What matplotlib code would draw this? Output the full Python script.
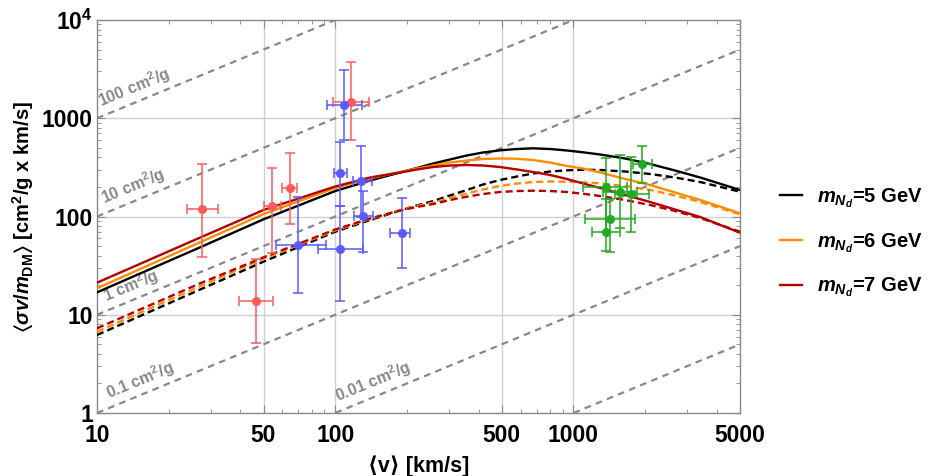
import numpy as np
import matplotlib
matplotlib.use("Agg")
import matplotlib.pyplot as plt
from matplotlib.ticker import FixedLocator, NullFormatter

plt.rcParams['font.family'] = ['Liberation Sans', 'DejaVu Sans']
plt.rcParams['font.weight'] = 'bold'
plt.rcParams['mathtext.fontset'] = 'custom'
plt.rcParams['mathtext.rm'] = 'Liberation Sans:bold'
plt.rcParams['mathtext.it'] = 'Liberation Sans:bold:italic'
plt.rcParams['mathtext.bf'] = 'Liberation Sans:bold'
plt.rcParams['mathtext.fallback'] = 'stix'

# ---------------- data ----------------
v_curve = [10, 27, 50, 100, 140, 187, 220, 258, 303, 357, 417, 492, 580, 677,
           798, 939, 1097, 1294, 1647, 2097, 2670, 3404, 5000]
solid_5 = [16.9, 48.4, 93.6, 181.7, 232.5, 280.4, 311.5, 346.2, 380.4, 417.8, 448.1, 471.8,
           486.4, 494.4, 486.4, 469.7, 450.2, 427.6, 389.4, 342.2, 293.8, 249.4, 186.1]
solid_6 = [18.6, 54.5, 106, 195.1, 243.7, 283.8, 307.9, 330.4, 354.4, 371.5, 384.7, 389.4,
           386.7, 375.8, 354.4, 326.6, 307.9, 280.4, 240.8, 209.2, 175.5, 147.2, 107.8]
solid_7 = [21.2, 60.8, 116.5, 202, 249.4, 280.4, 300.8, 319, 330.4, 334.3, 330.4, 319,
           300.8, 283.8, 264.5, 240.8, 216.7, 195.1, 165.5, 140.5, 117.8, 98.8, 68.4]
dashed_5 = [6.22, 17.98, 34.7, 70.0, 92.1, 115.1, 129.4, 143.8, 163.6, 186.1, 211.7, 235.2,
            255.4, 274.0, 287.1, 295.3, 298.8, 297.4, 287.1, 270.8, 249.4, 224.4, 178.8]
dashed_6 = [6.72, 19.4, 37.4, 72.0, 94.3, 116.5, 127.9, 138.8, 154.3, 171.4, 188.3, 204.4,
            216.7, 224.4, 227.1, 226.0, 222.9, 217.7, 204.4, 186.1, 163.6, 140.5, 105.3]
dashed_7 = [7.28, 20.8, 38.4, 73.7, 95.4, 115.1, 125, 134.1, 147.2, 159.1, 169.4, 177.6,
            181.7, 183.0, 181.7, 177.6, 170.2, 161.7, 147.2, 130.9, 113.8, 96.5, 70.0]

# reference lines of constant sigma/m [cm^2/g]
sigma_m_lines = [0.001, 0.01, 0.1, 1, 10, 100, 1000]
line_label_vals = [100, 10, 1, 0.1, 0.01]
line_label_text = ['100 cm$^2$/g', '10 cm$^2$/g', '1 cm$^2$/g', '0.1 cm$^2$/g', '0.01 cm$^2$/g']
line_label_v = [10.6, 10.9, 11.1, 11.4, 105]

# dwarfs (red)
red_v = [27.7, 54.4, 64.4, 46.4, 116.5]
red_v_lo = [23.8, 50.2, 59.5, 39.5, 97.6]
red_v_hi = [32.3, 59.0, 68.8, 54.7, 138]
red_y = [118, 129, 196, 13.9, 1475]
red_y_lo = [39, 42.8, 84, 5.2, 600]
red_y_hi = [342, 314, 446, 36.7, 3715]

# LSBs (blue)
blue_v = [109, 104.7, 128, 131, 69.8, 104.7, 190]
blue_v_lo = [92.7, 98.9, 119, 120, 56.4, 85, 170]
blue_v_hi = [129, 112, 142, 144.6, 91.2, 131, 206]
blue_y = [1365, 277, 230, 100.5, 51, 46.4, 68.4]
blue_y_lo = [600, 128, 100, 43.8, 16.5, 13.9, 29.7]
blue_y_hi = [3100, 577, 526, 180, 159, 128, 153]

# clusters (green)
green_v = [1946, 1366, 1574, 1750, 1425, 1366]
green_v_lo = [1786, 1100, 1335, 1495, 1118, 1194]
green_v_hi = [2134, 1683, 1854, 2083, 1814, 1570]
green_y = [340, 201, 176, 169, 94.3, 70]
green_y_lo = [221, 70, 75.9, 70, 43.2, 44.9]
green_y_hi = [522, 391, 425, 400, 150, 150]

x_ticks = [10, 50, 100, 500, 1000, 5000]
x_tick_labels = ['10', '50', '100', '500', '1000', '5000']
y_ticks = [1, 10, 100, 1000, 10000]
y_tick_labels = ['1', '10', '100', '1000', '$10^4$']

# ---------------- figure ----------------
fig = plt.figure(figsize=(9.3, 4.76), dpi=100)
ax = fig.add_axes([97/930, 1-413/476, (740-97)/930, (413-20)/476])
ax.set_xscale('log')
ax.set_yscale('log')
ax.set_xlim(10, 5000)
ax.set_ylim(1, 10000)

# grid
for gx in [50, 100, 500, 1000]:
    ax.axvline(gx, color='#d0d0d0', lw=1.0, zorder=0)
for gy in [10, 100, 1000]:
    ax.axhline(gy, color='#d0d0d0', lw=1.0, zorder=0)

# constant sigma/m lines
vv = np.array([10.0, 5000.0])
for k in sigma_m_lines:
    ax.plot(vv, k * vv, color='#888888', lw=1.6, dashes=(3, 2.4), zorder=1)

for k, t, v0 in zip(line_label_vals, line_label_text, line_label_v):
    ax.annotate(t, xy=(v0, k * v0), xytext=(0, 2.5), textcoords='offset points',
                rotation=22.4, rotation_mode='anchor', ha='left', va='bottom',
                color='#888888', fontsize=11.5, fontweight='bold', zorder=2)

# theory curves
cols = ['black', '#ff8c00', '#b30000']
for ys, c in zip([dashed_5, dashed_6, dashed_7], cols):
    ax.plot(v_curve, ys, color=c, lw=1.7, dashes=(3, 1.7), zorder=3)
for ys, c, lab in zip([solid_5, solid_6, solid_7], cols,
                      [r'$m_{N_d}$=5 GeV', r'$m_{N_d}$=6 GeV', r'$m_{N_d}$=7 GeV']):
    ax.plot(v_curve, ys, color=c, lw=1.7, label=lab, zorder=4)

def eb(vx, vlo, vhi, yy, ylo, yhi, col):
    vx = np.array(vx); yy = np.array(yy)
    xerr = [vx - np.array(vlo), np.array(vhi) - vx]
    yerr = [yy - np.array(ylo), np.array(yhi) - yy]
    ax.errorbar(vx, yy, xerr=xerr, yerr=yerr, fmt='o', color=col, ms=5.5,
                elinewidth=1.1, capsize=3.5, capthick=1.1, zorder=5)

eb(red_v, red_v_lo, red_v_hi, red_y, red_y_lo, red_y_hi, '#ff5a5a')
eb(blue_v, blue_v_lo, blue_v_hi, blue_y, blue_y_lo, blue_y_hi, '#5a5aff')
eb(green_v, green_v_lo, green_v_hi, green_y, green_y_lo, green_y_hi, '#22aa22')

# ticks
ax.xaxis.set_major_locator(FixedLocator(x_ticks))
ax.set_xticklabels(x_tick_labels)
ax.yaxis.set_major_locator(FixedLocator(y_ticks))
ax.set_yticklabels(y_tick_labels)
xm = [m * d for d in [10, 100, 1000] for m in range(2, 10) if m * d not in x_ticks and m * d < 5000]
ym = [m * d for d in [1, 10, 100, 1000] for m in range(2, 10)]
ax.xaxis.set_minor_locator(FixedLocator(xm))
ax.yaxis.set_minor_locator(FixedLocator(ym))
ax.xaxis.set_minor_formatter(NullFormatter())
ax.yaxis.set_minor_formatter(NullFormatter())
ax.tick_params(which='both', direction='in', top=True, right=True, color='#888888')
ax.tick_params(which='major', length=5.5, width=0.8, labelsize=16.5)
ax.tick_params(axis='x', which='major', pad=8)
ax.tick_params(axis='y', which='major', pad=3)
ax.tick_params(which='minor', length=3, width=0.6)
for lbl in ax.get_xticklabels() + ax.get_yticklabels():
    lbl.set_fontweight('bold')
for s in ax.spines.values():
    s.set_color('#888888')
    s.set_linewidth(1.0)

ax.set_xlabel('⟨v⟩ [km/s]', fontsize=15.5, fontweight='bold', labelpad=6)
ax.set_ylabel(r'$\langle\sigma v/m_{\rm DM}\rangle$ [cm$^2$/g x km/s]', fontsize=14.5,
              fontweight='bold', labelpad=4)

fig.legend(loc='center left', bbox_to_anchor=(0.819, 0.49), frameon=False,
           fontsize=14.5, handlelength=1.1, labelspacing=1.05, handletextpad=0.75)

fig.savefig('out.png', dpi=100)
